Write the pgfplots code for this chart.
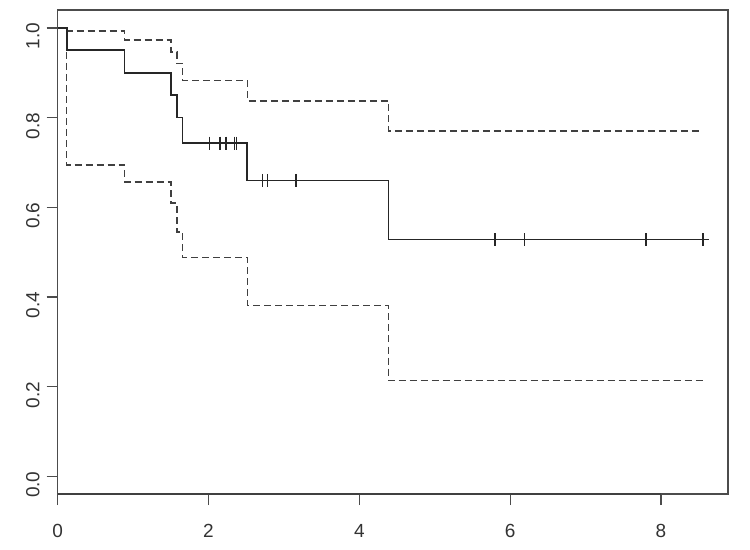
\documentclass[border=0pt]{standalone}
\usepackage{pgfplots}
\pgfplotsset{compat=1.18}
\usepackage{fontspec}
\setmainfont{Liberation Sans}
\usetikzlibrary{calc}

\begin{document}
\begin{tikzpicture}
\begin{axis}[
    name=ax,
    scale only axis,
    width=335pt, height=242pt,
    xmin=0, xmax=8.89,
    ymin=-0.04, ymax=1.04,
    axis line style={black!70, line width=0.7pt},
    xtick={0,2,4,6,8},
    ytick={0,0.2,0.4,0.6,0.8,1.0},
    yticklabels={0.0,0.2,0.4,0.6,0.8,1.0},
    xtick pos=bottom, ytick pos=left,
    tick align=outside,
    major tick length=5.5pt,
    tick style={black!70, line width=0.6pt},
    ticklabel style={font=\fontsize{9.5}{11}\selectfont, text=black!80},
    xticklabel style={yshift=-6pt},
    yticklabel style={rotate=90, anchor=south, xshift=-4.2pt},
    /pgf/number format/assume math mode=true,
    clip=false,
]
% confidence limits
\addplot[const plot, black!75, line width=0.8pt, dash pattern=on 3.5pt off 2pt] coordinates {
    (0,1) (0.119,0.993) (0.884,0.973) (1.499,0.946) (1.579,0.921)
    (1.653,0.883) (2.515,0.837) (4.386,0.770) (8.557,0.770)
};
\addplot[const plot, black!75, line width=0.8pt, dash pattern=on 3.5pt off 2pt] coordinates {
    (0,1) (0.119,0.694) (0.884,0.656) (1.499,0.609) (1.579,0.545)
    (1.653,0.488) (2.515,0.381) (4.386,0.214) (8.557,0.214)
};
% survival estimate
\addplot[const plot, black!85, line width=0.85pt] coordinates {
    (0,1) (0.119,0.95) (0.884,0.90) (1.499,0.85) (1.579,0.80)
    (1.653,0.743) (2.515,0.660) (4.386,0.528) (8.557,0.528)
};
% censoring marks
\addplot[only marks, mark=+, mark size=3.2pt, black!85, mark options={line width=0.7pt}] coordinates {
    (2.011,0.743) (2.153,0.743) (2.233,0.743) (2.343,0.743) (2.375,0.743)
    (2.714,0.660) (2.781,0.660) (3.162,0.660)
    (5.802,0.528) (6.187,0.528) (7.805,0.528) (8.557,0.528)
};
% heavier axis line between the outer ticks
\draw[black!75, line width=1.2pt] (axis cs:0,-0.04) -- (axis cs:8,-0.04);
\end{axis}
\path[use as bounding box] ($(ax.south west)+(-28.85pt,-27.5pt)$) rectangle ($(ax.north east)+(11pt,5pt)$);
\end{tikzpicture}
\end{document}
